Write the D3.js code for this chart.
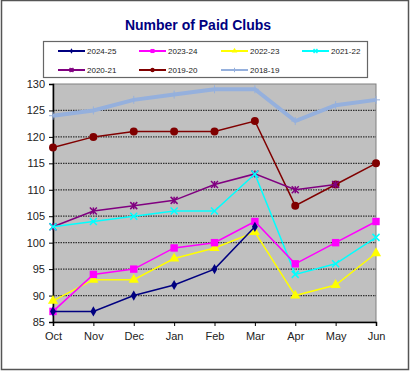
<!DOCTYPE html>
<html>
<head>
<meta charset="utf-8">
<script src="https://cdn.jsdelivr.net/npm/d3@7"></script>
<style>
  body { margin: 0; background: #fff; }
  text { font-family: Arial, "Liberation Sans", sans-serif; }
</style>
</head>
<body>
<div id="chart"></div>
<script>
"use strict";

var months = ["Oct", "Nov", "Dec", "Jan", "Feb", "Mar", "Apr", "May", "Jun"];
var yTicks = [85, 90, 95, 100, 105, 110, 115, 120, 125, 130];

var s2425 = [87, 87, 90, 92, 95, 103];
var s2324 = [87, 94, 95, 99, 100, 104, 96, 100, 104];
var s2223 = [89, 93, 93, 97, 99, 102, 90, 92, 98];
var s2122 = [103, 104, 105, 106, 106, 113, 94, 96, 101];
var s2021 = [103, 106, 107, 108, 111, 113, 110, 111];
var s1920 = [118, 120, 121, 121, 121, 123, 107, 111, 115];
var s1819 = [124, 125, 127, 128, 129, 129, 123, 126, 127];

var series = [
  { name: "2024-25", values: s2425, color: "#000080", marker: "diamond", width: 1.5 },
  { name: "2023-24", values: s2324, color: "#ff00ff", marker: "square", width: 1.5 },
  { name: "2022-23", values: s2223, color: "#ffff00", marker: "triangle", width: 1.5 },
  { name: "2021-22", values: s2122, color: "#00ffff", marker: "x", width: 1.5 },
  { name: "2020-21", values: s2021, color: "#800080", marker: "star", width: 1.5 },
  { name: "2019-20", values: s1920, color: "#800000", marker: "circle", width: 1.5 },
  { name: "2018-19", values: s1819, color: "#95b0dd", marker: "plus", width: 4 }
];

var W = 411, H = 371;
var plot = { left: 53, right: 376, top: 84, bottom: 322 };

var svg = d3.select("#chart").append("svg")
  .attr("width", W)
  .attr("height", H);

// outer chart border
svg.append("rect")
  .attr("x", 1.5).attr("y", 0.5)
  .attr("width", 407).attr("height", 369)
  .attr("fill", "#fff")
  .attr("stroke", "#555")
  .attr("stroke-width", 1.5);

var x = d3.scalePoint().domain(months).range([plot.left, plot.right]);
var y = d3.scaleLinear().domain([85, 130]).range([plot.bottom, plot.top]);

// plot area
svg.append("rect")
  .attr("x", plot.left).attr("y", plot.top)
  .attr("width", plot.right - plot.left)
  .attr("height", plot.bottom - plot.top)
  .attr("fill", "#c0c0c0")
  .attr("stroke", "#808080")
  .attr("stroke-width", 1);

// gridlines
svg.append("g")
  .selectAll("line")
  .data(yTicks.slice(1, -1))
  .enter().append("line")
  .attr("x1", plot.left).attr("x2", plot.right)
  .attr("y1", function(d) { return y(d); })
  .attr("y2", function(d) { return y(d); })
  .attr("stroke", "#333")
  .attr("stroke-width", 1.2)
  .attr("stroke-dasharray", "1.5,1");

// axes
var yAxis = svg.append("g")
  .attr("transform", "translate(" + plot.left + ",0)")
  .call(d3.axisLeft(y).tickValues(yTicks).tickSize(4).tickPadding(4).tickFormat(d3.format("d")));
var xAxis = svg.append("g")
  .attr("transform", "translate(0," + plot.bottom + ")")
  .call(d3.axisBottom(x).tickSize(4).tickPadding(6));

[yAxis, xAxis].forEach(function(a) {
  a.select(".domain").attr("stroke", "#000").attr("stroke-width", 1.5);
  a.selectAll(".tick line").attr("stroke", "#000");
  a.selectAll(".tick text")
    .attr("fill", "#222")
    .style("font-size", "11px")
    .style("font-family", "Arial, 'Liberation Sans', sans-serif");
});

var line = d3.line()
  .x(function(d, i) { return x(months[i]); })
  .y(function(d) { return y(d); });

var symbolType = {
  diamond: d3.symbolDiamond,
  square: d3.symbolSquare,
  triangle: d3.symbolTriangle,
  circle: d3.symbolCircle
};
var symbolSize = { diamond: 30, square: 55, triangle: 45, circle: 50 };

var drawMarker = function(g, s, cx, cy, k) {
  var m = s.marker;
  if (symbolType[m]) {
    g.append("path")
      .attr("d", d3.symbol().type(symbolType[m]).size(symbolSize[m] * k * k)())
      .attr("transform", "translate(" + cx + "," + cy + ")")
      .attr("fill", s.color);
  } else {
    var r = (m === "plus" ? 4 : 3.5) * k;
    var segs = [];
    if (m === "x" || m === "star") {
      segs.push([-r, -r, r, r], [-r, r, r, -r]);
    }
    if (m === "plus" || m === "star") {
      segs.push([0, -r, 0, r]);
      if (m === "plus") segs.push([-r, 0, r, 0]);
    }
    segs.forEach(function(sg) {
      g.append("line")
        .attr("x1", cx + sg[0]).attr("y1", cy + sg[1])
        .attr("x2", cx + sg[2]).attr("y2", cy + sg[3])
        .attr("stroke", s.color)
        .attr("stroke-width", m === "plus" ? 1 : 1.5);
    });
  }
};

// draw back to front so 2024-25 ends on top
series.slice().reverse().forEach(function(s) {
  var g = svg.append("g");
  g.append("path")
    .datum(s.values)
    .attr("d", line)
    .attr("fill", "none")
    .attr("stroke", s.color)
    .attr("stroke-width", s.width);
  s.values.forEach(function(v, i) {
    drawMarker(g, s, x(months[i]), y(v), 1);
  });
});

// title
svg.append("text")
  .attr("x", 198).attr("y", 30)
  .attr("text-anchor", "middle")
  .attr("fill", "#000080")
  .style("font-size", "14px")
  .style("font-weight", "bold")
  .text("Number of Paid Clubs");

// legend
var legend = svg.append("g");
legend.append("rect")
  .attr("x", 43.5).attr("y", 41.5)
  .attr("width", 324).attr("height", 36)
  .attr("fill", "#fff")
  .attr("stroke", "#666")
  .attr("stroke-width", 1.2);

var colX = [58, 139, 221, 302];
var rowY = [51, 70];
series.forEach(function(s, i) {
  var lx = colX[i % 4], ly = rowY[Math.floor(i / 4)];
  var lg = legend.append("g");
  lg.append("line")
    .attr("x1", lx).attr("x2", lx + 27)
    .attr("y1", ly).attr("y2", ly)
    .attr("stroke", s.color)
    .attr("stroke-width", 2);
  drawMarker(lg, s, lx + 13.5, ly, 0.55);
  lg.append("text")
    .attr("x", lx + 29).attr("y", ly + 3)
    .attr("fill", "#222")
    .style("font-size", "8px")
    .text(s.name);
});
</script>
</body>
</html>
